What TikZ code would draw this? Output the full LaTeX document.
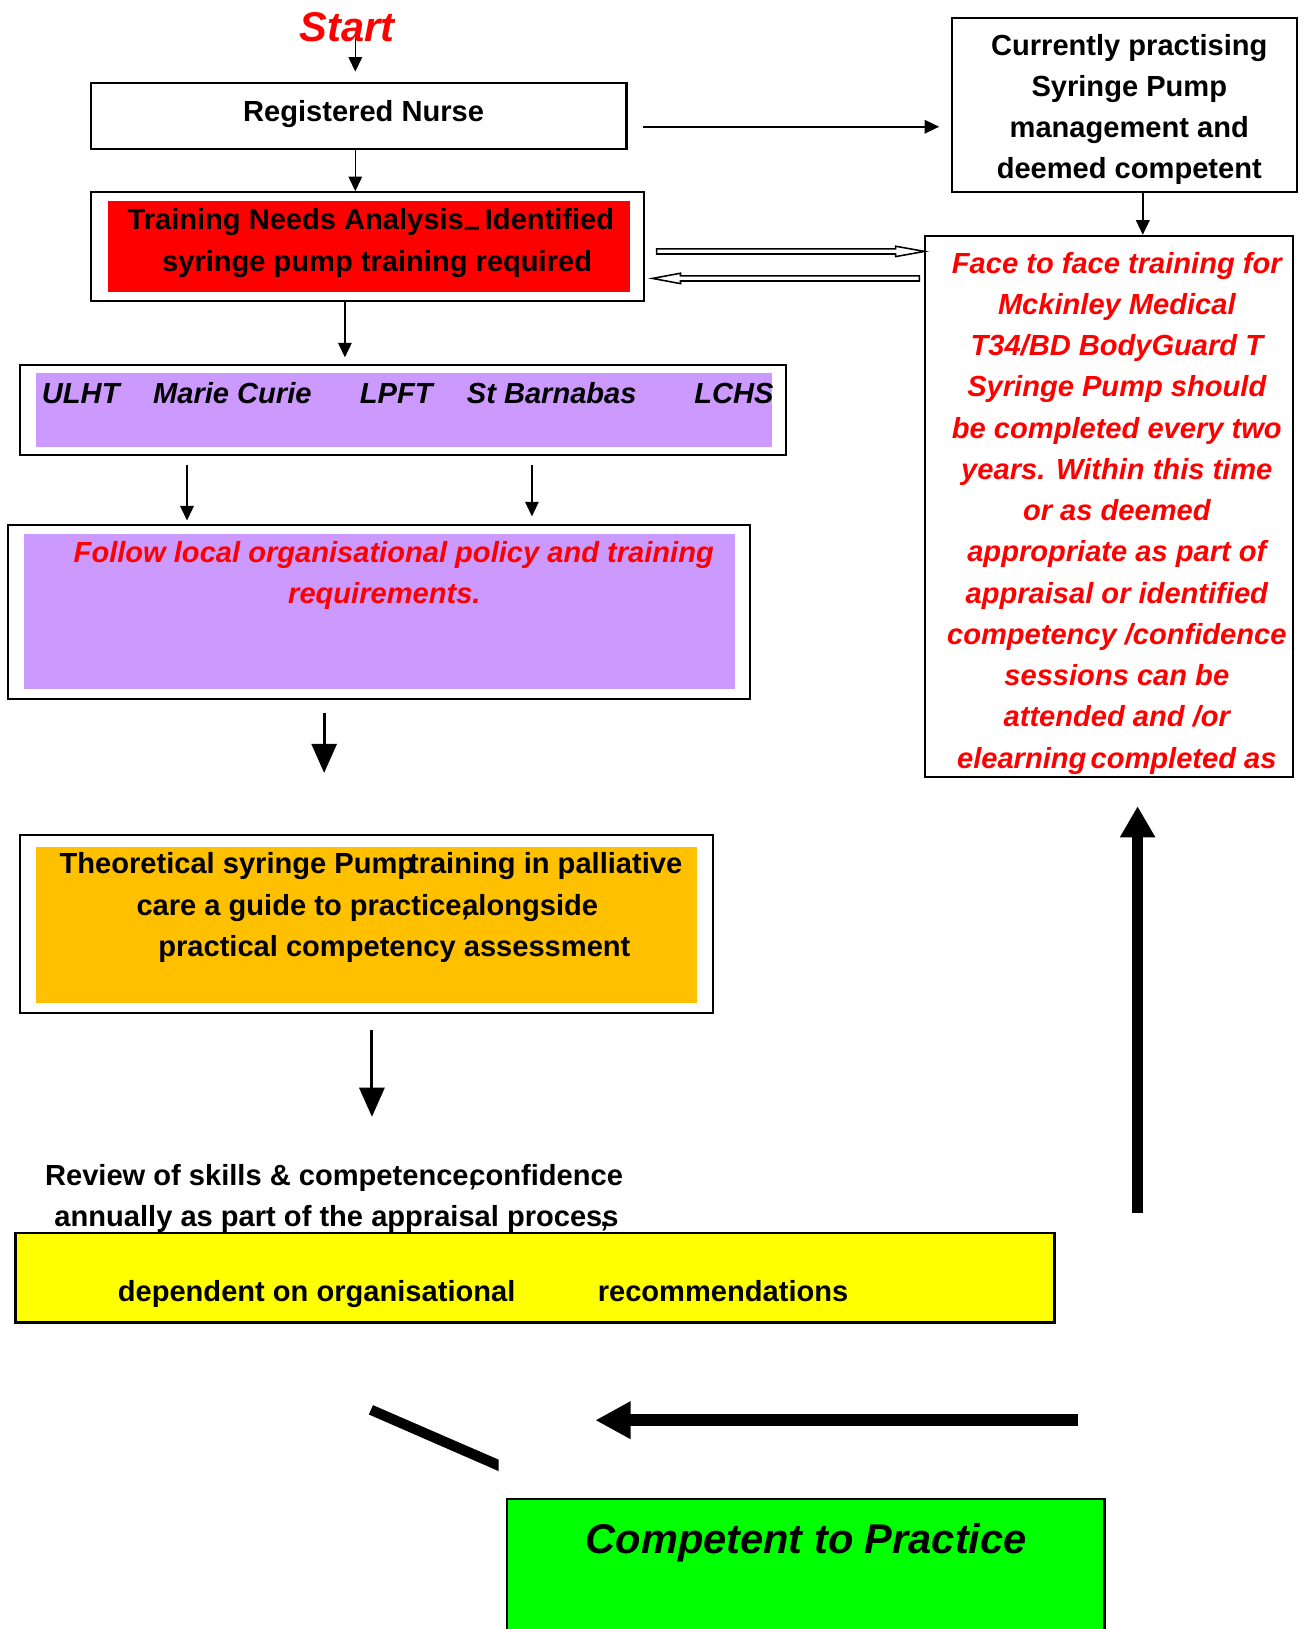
\documentclass[tikz,border=0pt]{standalone}
\usepackage{fontspec}
\setmainfont{Liberation Sans}
\usetikzlibrary{arrows.meta,fit,calc}
\definecolor{cred}{HTML}{FF0000}
\definecolor{cpurple}{HTML}{CC99FF}
\definecolor{corange}{HTML}{FFC000}
\definecolor{cyellow}{HTML}{FFFF00}
\definecolor{cgreen}{HTML}{00FF00}
\begin{document}
\begin{tikzpicture}[x=0.5pt,y=-0.5pt,
  box/.style={draw=black,line width=1pt,inner sep=0pt},
  fillrect/.style={inner sep=0pt,draw=none},
  bt/.style={font=\bfseries\fontsize{14}{19.85}\selectfont,inner sep=0pt,anchor=base},
  bit/.style={font=\bfseries\itshape\fontsize{14}{19.85}\selectfont,inner sep=0pt,anchor=base},
  thinarrow/.style={line width=0.75pt,-{Triangle[length=7pt,width=6.5pt]}},
  midarrow/.style={line width=1.5pt,-{Triangle[length=14pt,width=12pt]}},
  bigarrow/.style={line width=5pt,-{Triangle[length=15pt,width=16pt]}},
  bigharrow/.style={line width=6pt,-{Triangle[length=17pt,width=17pt]}},
  hollow/.style={draw=black,line width=0.75pt,fill=white},
]
\useasboundingbox (0,0) rectangle (1255,1568);

% ---- boxes ----
\node[box,fit={(88,80)(603,143)}] (rn) {};
\node[box,fit={(88,185)(620,290)}] (tna) {};
\node[fillrect,fill=cred,fit={(104,193)(606,281)}] (tnafill) {};
\node[box,fit={(916,17)(1248,185)}] (cur) {};
\node[box,fit={(890,227)(1245,748)}] (face) {};
\node[box,fit={(19,351)(757,438)}] (org) {};
\node[fillrect,fill=cpurple,fit={(35,359)(743,430)}] (orgfill) {};
\node[box,fit={(8,505)(722,673)}] (fol) {};
\node[fillrect,fill=cpurple,fit={(23,514)(707,663)}] (folfill) {};
\node[box,fit={(19,804)(686,975)}] (theo) {};
\node[fillrect,fill=corange,fit={(35,815)(671,965)}] (theofill) {};
\node[box,line width=1.2pt,fill=cyellow,fit={(15,1187)(1015,1273)}] (yel) {};
\node[box,line width=1.2pt,fill=cgreen,fit={(488,1443)(1063,1590)}] (grn) {};

% ---- texts ----
\node[font=\bfseries\itshape\fontsize{20}{24}\selectfont,text=cred,inner sep=0pt,anchor=base] (start) at (334,40) {Start};
\node[bt] (rntxt) at (350,117) {Registered Nurse};
\node[bt] (tna1) at (357,221) {Training Needs Analysis\raisebox{-3.5pt}{–}\,Identified};
\node[bt] (tna2) at (363,261) {syringe pump training required};
\node[bt] (curtxt) at (1087,53) {\begin{tabular}[t]{@{}c@{}}Currently practising\\ Syringe Pump\\ management and\\ deemed competent\end{tabular}};
\node[bit,text=cred] (facetxt) at (1075,263) {\begin{tabular}[t]{@{}c@{}}Face to face training for\\ Mckinley Medical\\ T34/BD BodyGuard T\\ Syringe Pump should\\ be completed every two\\ years. Within this time\\ or as deemed\\ appropriate as part of\\ appraisal or identified\\ competency /confidence\\ sessions can be\\ attended and /or\\ elearning\hspace{2pt}completed as\end{tabular}};
\node[bit,anchor=base west] (o1) at (40,388) {ULHT};
\node[bit,anchor=base west] (o2) at (147,388) {Marie Curie};
\node[bit,anchor=base west] (o3) at (346,388) {LPFT};
\node[bit,anchor=base west] (o4) at (449,388) {St Barnabas};
\node[bit,anchor=base west] (o5) at (668,388) {LCHS};
\node[bit,text=cred] (fol1) at (379,541) {Follow local organisational policy and training};
\node[bit,text=cred] (fol2) at (370,581) {requirements.};
\node[bt,anchor=base west] (th1) at (57,841) {Theoretical syringe Pump\kern-3pt training in palliative};
\node[bt,anchor=base west] (th2) at (131,881) {care a guide to practice,\kern-3.5pt alongside};
\node[bt,anchor=base west] (th3) at (152,921) {practical competency assessment};
\node[bt,anchor=base west] (rev1) at (43,1141) {Review of skills \& competence,\kern-3.5pt confidence};
\node[bt,anchor=base west] (rev2) at (52,1181) {annually as part of the appraisal proces\rlap{\kern-1pt,}s};
\node[bt,anchor=base west] (y1) at (113,1253) {dependent on organisational};
\node[bt,anchor=base west] (y2) at (575,1253) {recommendations};
\node[font=\bfseries\itshape\fontsize{20}{24}\selectfont,inner sep=0pt,anchor=base] (comp) at (776,1495) {Competent to Practice};

% ---- helper coordinates ----
\coordinate (sA) at (342,38);
\coordinate (x342) at (342,0);
\coordinate (x332) at (332,0);
\coordinate (x180) at (180,0);
\coordinate (x512) at (512,0);
\coordinate (x312) at (312,0);
\coordinate (x358) at (358,0);
\coordinate (x1100) at (1100,0);
\coordinate (y122) at (0,122);
\coordinate (revtip) at (358,1075);
\coordinate (bvs) at (1095,1168);
\coordinate (bhs) at (1038,1367);
\coordinate (bhe) at (573,1367);

% ---- connectors ----
\draw[thinarrow,shorten >=5pt] (sA) -- (rn.north -| sA);
\draw[thinarrow] (rn.south -| x342) -- (tna.north -| x342);
\draw[thinarrow,shorten <=7.5pt,shorten >=5.5pt] (rn.east |- y122) -- (cur.west |- y122);
\draw[thinarrow] (cur.south -| x1100) -- (face.north -| x1100);
\draw[thinarrow,shorten >=3pt] (tna.south -| x332) -- (org.north -| x332);
\draw[thinarrow,shorten <=4.5pt,shorten >=1.5pt] (org.south -| x180) -- (fol.north -| x180);
\draw[thinarrow,shorten <=4.5pt,shorten >=3.5pt] (org.south -| x512) -- (fol.north -| x512);
\draw[midarrow,shorten <=6pt,shorten >=29.5pt] (fol.south -| x312) -- (theo.north -| x312);
\draw[midarrow,shorten <=7.5pt] (theo.south -| x358) -- (revtip);
\draw[bigarrow,shorten >=13.5pt] (bvs) -- (bvs |- face.south);
\draw[bigharrow] (bhs) -- (bhe);

% hollow double arrows between TNA and face-to-face box
\draw[hollow] (632,239.5) -- (862,239.5) -- (862,237) -- (890,242) -- (862,247) -- (862,244.5) -- (632,244.5) -- cycle;
\draw[hollow] (885,265.5) -- (655,265.5) -- (655,263) -- (628,268) -- (655,273) -- (655,270.5) -- (885,270.5) -- cycle;

% slanted bar
\fill[black] (359,1352.5) -- (480,1405) -- (480,1416) -- (355,1361.5) -- cycle;
\end{tikzpicture}
\end{document}
